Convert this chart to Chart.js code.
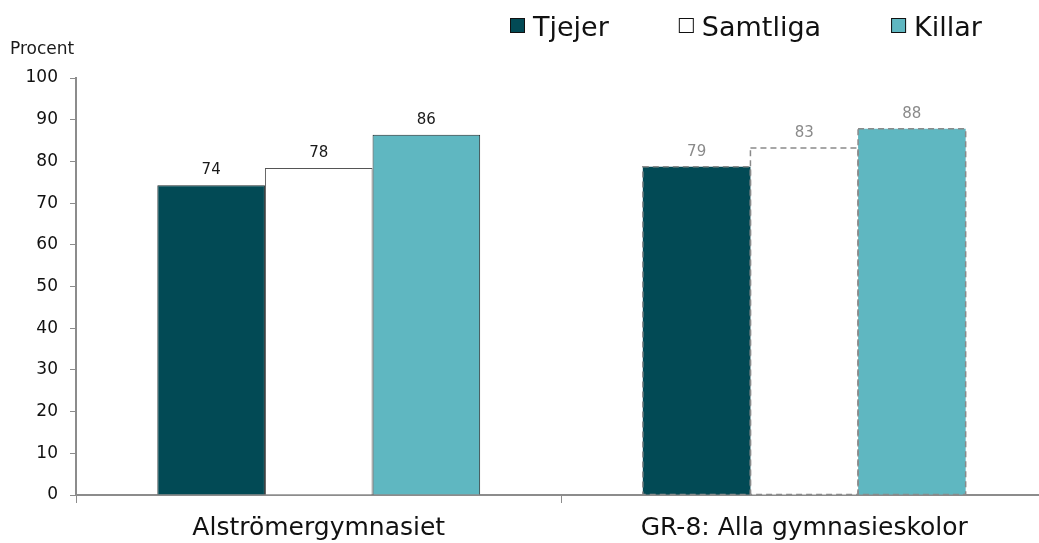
<!DOCTYPE html>
<html>
<head>
<meta charset="utf-8">
<script src="https://cdn.jsdelivr.net/npm/chart.js@4"></script>
<style>
  html, body { margin: 0; padding: 0; background: #fff; overflow: hidden; }
</style>
</head>
<body>
<canvas id="chart" width="1047" height="543"></canvas>
<script>
var categories = ['Alströmergymnasiet', 'GR-8: Alla gymnasieskolor'];
var seriesNames = ['Tjejer', 'Samtliga', 'Killar'];
var tjejer = [74.3, 78.7];
var samtliga = [78.4, 83.2];
var killar = [86.4, 87.8];
var yMin = 0, yMax = 100, yStep = 10;

var FONT = '"DejaVu Sans", Verdana, sans-serif';
var colors = ['#024a55', '#ffffff', '#5fb7c1'];
var edge = ['#1e2a2c', '#555555', '#1e2a2c'];

// borders, value labels, legend and the "Procent" caption
var extras = {
    id: 'extras',
    afterDatasetsDraw: function (chart) {
        var ctx = chart.ctx;
        ctx.save();
        chart.data.datasets.forEach(function (ds, di) {
            var meta = chart.getDatasetMeta(di);
            meta.data.forEach(function (bar, i) {
                var p = bar.getProps(['x', 'y', 'base', 'width'], true);
                if (i === 1) {
                    // comparison group is drawn with a dashed grey outline
                    ctx.setLineDash([6, 4]);
                    ctx.lineWidth = 1.5;
                    ctx.strokeStyle = '#8a8a8a';
                    ctx.strokeRect(p.x - p.width / 2, p.y, p.width, p.base - p.y);
                    ctx.setLineDash([]);
                }
                ctx.fillStyle = i === 0 ? '#1a1a1a' : '#8a8a8a';
                ctx.font = '15px ' + FONT;
                ctx.textAlign = 'center';
                ctx.textBaseline = 'alphabetic';
                ctx.fillText(Math.round(ds.data[i]), p.x, p.y - 11);
            });
        });
        ctx.restore();
    },
    afterDraw: function (chart) {
        var ctx = chart.ctx;
        ctx.save();
        ctx.fillStyle = '#1a1a1a';
        ctx.font = '17px ' + FONT;
        ctx.textAlign = 'left';
        ctx.textBaseline = 'alphabetic';
        ctx.fillText('Procent', 10, 54);

        var x = 510;
        ctx.font = '27px ' + FONT;
        seriesNames.forEach(function (name, i) {
            ctx.fillStyle = colors[i];
            ctx.fillRect(x, 18, 15, 15);
            ctx.lineWidth = 1;
            ctx.strokeStyle = '#111';
            ctx.strokeRect(x + 0.5, 18.5, 14, 14);
            ctx.fillStyle = '#111';
            ctx.fillText(name, x + 23, 36);
            x += 23 + ctx.measureText(name).width + 70;
        });
        ctx.restore();
    }
};

var datasets = [tjejer, samtliga, killar].map(function (values, i) {
    return {
        label: seriesNames[i],
        data: values,
        backgroundColor: colors[i],
        borderColor: edge[i],
        borderWidth: function (c) { return c.dataIndex === 0 ? 1 : 0; },
        borderSkipped: 'start',
        categoryPercentage: 0.665,
        barPercentage: 1.0
    };
});

new Chart(document.getElementById('chart').getContext('2d'), {
    type: 'bar',
    data: { labels: categories, datasets: datasets },
    options: {
        responsive: false,
        animation: false,
        devicePixelRatio: 1,
        layout: { padding: { top: 78, left: 0, right: 0, bottom: 0 } },
        plugins: {
            legend: { display: false },
            tooltip: { enabled: false }
        },
        scales: {
            x: {
                afterFit: function (s) { s.height = 48; },
                grid: { drawOnChartArea: false, tickLength: 8, color: '#8c8c8c', lineWidth: 1 },
                border: { color: '#8c8c8c', width: 2 },
                ticks: { color: '#111', padding: 10, maxRotation: 0, font: { family: FONT, size: 25 } }
            },
            y: {
                min: yMin,
                max: yMax,
                afterFit: function (s) { s.width = 76; },
                grid: { drawOnChartArea: false, tickLength: 6, color: '#8c8c8c', lineWidth: 1 },
                border: { color: '#8c8c8c', width: 2 },
                ticks: { stepSize: yStep, color: '#111', padding: 12, font: { family: FONT, size: 17 } }
            }
        }
    },
    plugins: [extras]
});
</script>
</body>
</html>
